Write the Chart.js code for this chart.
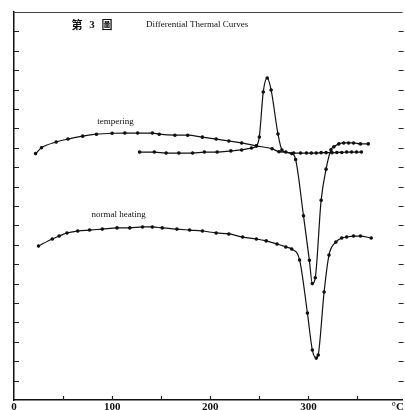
<!DOCTYPE html>
<html>
<head>
<meta charset="utf-8">
<script src="https://cdn.jsdelivr.net/npm/chart.js@4"></script>
<style>
  html, body { margin: 0; padding: 0; background: #fff; }
  #wrap { width: 405px; height: 410px; position: relative; }
</style>
</head>
<body>
<div id="wrap"><canvas id="chart"></canvas></div>
<script>
// temperature (°C) and relative deflection
let temperTemp = [22, 28, 43, 55, 70, 84, 100, 113, 126, 141, 148, 164, 177, 192, 206, 219, 232, 247, 263, 270, 283, 287, 295, 301, 304, 307, 313, 318, 323, 326, 331, 336, 341, 346, 353, 361];
let temperVal = [12.7, 13.0, 13.3, 13.45, 13.6, 13.7, 13.75, 13.76, 13.76, 13.76, 13.7, 13.65, 13.65, 13.55, 13.45, 13.35, 13.25, 13.1, 12.95, 12.8, 12.7, 12.4, 9.5, 7.2, 6.0, 6.3, 10.3, 11.9, 12.9, 13.05, 13.2, 13.25, 13.25, 13.25, 13.2, 13.2];

let peakTemp = [128, 143, 155, 168, 182, 194, 207, 221, 232, 242, 247, 250, 254, 258, 262, 269, 273, 277, 285, 292, 298, 303, 308, 313, 318, 324, 329, 334, 339, 344, 349, 354];
let peakVal = [12.78, 12.78, 12.73, 12.73, 12.73, 12.78, 12.78, 12.84, 12.89, 12.99, 13.09, 13.56, 15.88, 16.6, 15.98, 13.71, 12.89, 12.78, 12.73, 12.73, 12.73, 12.73, 12.73, 12.75, 12.75, 12.75, 12.76, 12.76, 12.78, 12.78, 12.78, 12.78];

let normalTemp = [25, 39, 46, 54, 65, 77, 90, 105, 118, 131, 141, 151, 166, 179, 192, 206, 219, 233, 247, 257, 268, 277, 283, 291, 299, 304, 308, 310, 316, 321, 328, 334, 339, 346, 353, 364];
let normalVal = [7.94, 8.3, 8.45, 8.61, 8.71, 8.76, 8.81, 8.87, 8.87, 8.92, 8.92, 8.87, 8.81, 8.76, 8.71, 8.61, 8.56, 8.4, 8.3, 8.2, 8.04, 7.89, 7.78, 7.22, 4.48, 2.58, 2.16, 2.32, 5.57, 7.47, 8.14, 8.35, 8.4, 8.45, 8.45, 8.35];

let xLabels = [0, 100, 200, 300];
let unitLabel = "°C";

function pts(xs, ys) {
    return xs.map((x, i) => ({ x: x, y: ys[i] }));
}

function curve(xs, ys) {
    return {
        data: pts(xs, ys),
        borderColor: '#111',
        backgroundColor: '#111',
        borderWidth: 1.2,
        pointRadius: 1.2,
        pointHoverRadius: 1.2,
        cubicInterpolationMode: 'monotone',
        fill: false
    };
}

// frame, inward ticks and the written labels
const frame = {
    id: 'frame',
    afterDraw(chart) {
        const ctx = chart.ctx;
        const a = chart.chartArea;
        const xs = chart.scales.x;
        const ys = chart.scales.y;
        ctx.save();
        ctx.strokeStyle = '#444';
        ctx.lineWidth = 1;
        ctx.beginPath();
        ctx.moveTo(a.left, a.top + 0.5);
        ctx.lineTo(a.right, a.top + 0.5);
        ctx.stroke();

        ctx.strokeStyle = '#222';
        ctx.lineWidth = 1.2;
        for (let v = 1; v < 20; v++) {
            const py = Math.round(ys.getPixelForValue(v)) + 0.5;
            ctx.beginPath();
            ctx.moveTo(a.left, py);
            ctx.lineTo(a.left + 5, py);
            ctx.moveTo(a.right - 4, py);
            ctx.lineTo(a.right + 1, py);
            ctx.stroke();
        }
        for (let t = 50; t <= 350; t += 50) {
            const px = Math.round(xs.getPixelForValue(t)) + 0.5;
            ctx.beginPath();
            ctx.moveTo(px, a.bottom);
            ctx.lineTo(px, a.bottom - 4);
            ctx.stroke();
        }

        ctx.fillStyle = '#111';
        ctx.textBaseline = 'middle';
        ctx.textAlign = 'center';
        ctx.font = '9px "Liberation Serif"';
        ctx.fillText('tempering', xs.getPixelForValue(103.5), ys.getPixelForValue(14.33));
        ctx.fillText('normal heating', xs.getPixelForValue(106.6), ys.getPixelForValue(9.54));

        ctx.font = 'bold 11px "Noto Sans CJK TC"';
        ctx.fillText('第', 77, 25);
        ctx.fillText('圖', 107, 25);
        ctx.font = 'bold 11px "Liberation Serif"';
        ctx.fillText('3', 92, 25);
        ctx.textAlign = 'left';
        ctx.font = '9px "Liberation Serif"';
        ctx.fillText('Differential Thermal Curves', 146, 25);
        ctx.restore();
    }
};

new Chart(document.getElementById('chart'), {
    type: 'line',
    data: {
        datasets: [
            curve(temperTemp, temperVal),
            curve(peakTemp, peakVal),
            curve(normalTemp, normalVal)
        ]
    },
    options: {
        responsive: true,
        maintainAspectRatio: false,
        animation: false,
        events: [],
        layout: { padding: { left: 14, top: 12, right: 1, bottom: 0 } },
        plugins: {
            legend: { display: false },
            tooltip: { enabled: false }
        },
        scales: {
            x: {
                type: 'linear',
                min: 0,
                max: 396,
                grid: { display: false, drawTicks: false },
                border: { display: true, color: '#111', width: 1.5 },
                afterBuildTicks: (scale) => {
                    scale.ticks = xLabels.concat([391]).map(v => ({ value: v }));
                },
                afterFit: (scale) => { scale.height = 10; },
                ticks: {
                    autoSkip: false,
                    maxRotation: 0,
                    padding: 1,
                    color: '#111',
                    font: { family: '"Liberation Serif"', size: 11, weight: 'bold' },
                    callback: (v) => v === 391 ? unitLabel : String(v)
                }
            },
            y: {
                min: 0,
                max: 20,
                grid: { display: false, drawTicks: false },
                border: { display: true, color: '#111', width: 1.5 },
                ticks: { display: false },
                afterFit: (scale) => { scale.width = 0; }
            }
        }
    },
    plugins: [frame]
});
</script>
</body>
</html>
